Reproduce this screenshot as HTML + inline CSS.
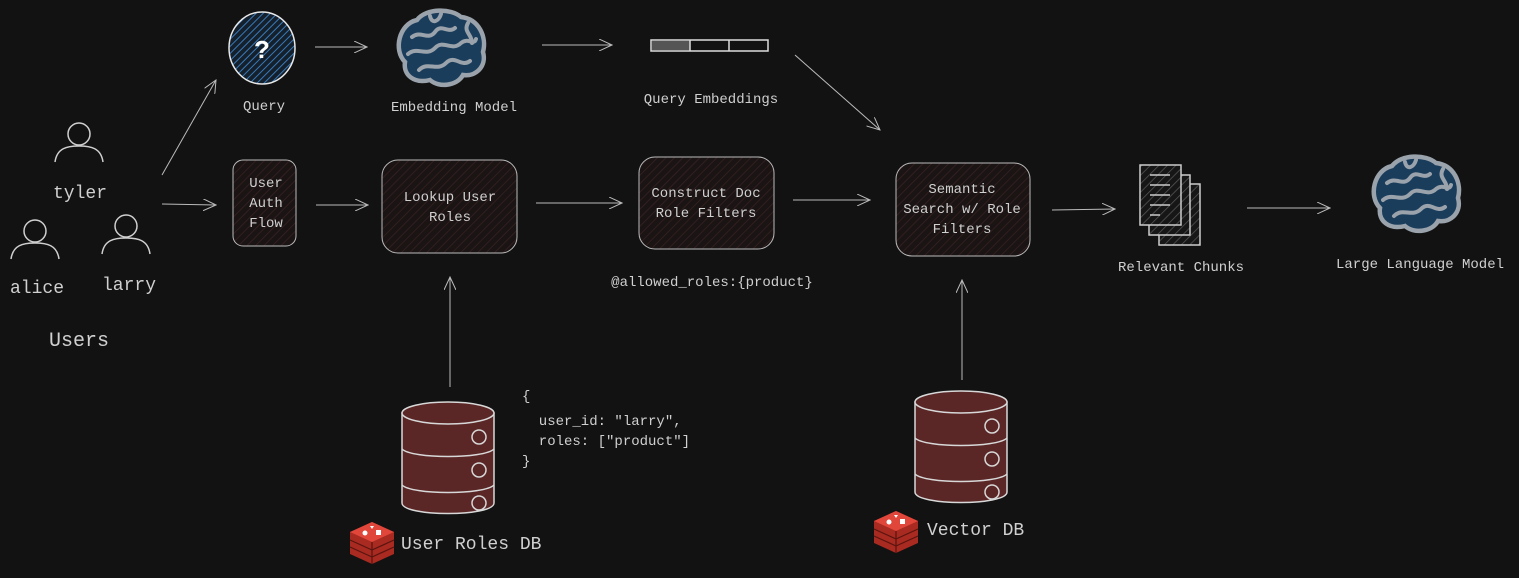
<!DOCTYPE html>
<html><head><meta charset="utf-8"><style>
html,body{margin:0;padding:0;background:#121212;}
svg{display:block;}
text{font-family:"Liberation Mono","DejaVu Sans Mono",monospace;fill:#d0d0d0;}
</style></head><body>
<svg width="1519" height="578" viewBox="0 0 1519 578" xmlns="http://www.w3.org/2000/svg">
<defs>
<pattern id="hr" width="6" height="6" patternUnits="userSpaceOnUse" patternTransform="rotate(45)">
<rect width="6" height="6" fill="#1a1414"/><line x1="0" y1="0" x2="0" y2="6" stroke="#3a2222" stroke-width="1.5"/></pattern>
<pattern id="hb" width="5" height="5" patternUnits="userSpaceOnUse" patternTransform="rotate(45)">
<rect width="5" height="5" fill="#14202c"/><line x1="0" y1="0" x2="0" y2="5" stroke="#3a7ab8" stroke-width="2"/></pattern>
<pattern id="hg" width="6" height="6" patternUnits="userSpaceOnUse" patternTransform="rotate(45)">
<rect width="6" height="6" fill="#161616"/><line x1="0" y1="0" x2="0" y2="6" stroke="#555" stroke-width="1.5"/></pattern>
<marker id="ah" markerWidth="14" markerHeight="12" refX="13" refY="6" orient="auto" markerUnits="userSpaceOnUse">
<path d="M0,0 L13,6 L0,12" fill="none" stroke="#bbb" stroke-width="1"/></marker>
<g id="brain">
<path d="M-34,12 C-46,0 -40,-26 -22,-30 C-13,-42 12,-42 22,-33 C40,-31 48,-13 44,2 C48,16 37,27 24,25 C18,36 0,38 -9,30 C-25,34 -36,25 -34,12 Z" fill="#1b3d5c" stroke="#9aa3ab" stroke-width="4.5"/>
<g fill="none" stroke="#9aa3ab" stroke-width="4" stroke-linecap="round">
<path d="M-27,-13 C-18,-20 -11,-9 -4,-18 C2,-27 9,-16 16,-22"/>
<path d="M-31,4 C-22,-4 -13,7 -4,-2 C4,-11 13,2 22,-7 C29,-13 35,-4 37,-11"/>
<path d="M-20,20 C-11,11 -2,22 7,13 C16,4 22,18 31,11"/>
<path d="M-9,-34 C-7,-25 0,-29 2,-36"/>
<path d="M29,-27 C24,-18 33,-16 33,-7"/>
</g></g>
<g id="person" fill="none" stroke="#cfcfcf" stroke-width="1.5">
<circle cx="0" cy="-12" r="11"/><path d="M-24,16 C-22,2 -12,0 0,0 C12,0 22,2 24,16"/></g>
<g id="cyl" stroke="#d8d8d8" stroke-width="1.5">
<path d="M0,10 L0,100 C0,114 92,114 92,100 L92,10 Z" fill="#5a2626"/>
<ellipse cx="46" cy="10" rx="46" ry="11" fill="#5a2626"/>
<path d="M0,46 C10,56 82,56 92,46 M0,82 C10,92 82,92 92,82" fill="none"/>
<circle cx="77" cy="34" r="7" fill="none"/><circle cx="77" cy="67" r="7" fill="none"/><circle cx="77" cy="100" r="7" fill="none"/>
</g>
<g id="redis">
<path d="M0,16 L22,6 L44,16 L44,38 L22,48 L0,38 Z" fill="#a82a20"/>
<path d="M0,16 L22,26 L44,16 L22,6 Z" fill="#e0463a"/>
<path d="M0,24 L22,34 L44,24 M0,31 L22,41 L44,31 M22,26 L22,48" stroke="#5a1410" fill="none" stroke-width="1.2"/>
<circle cx="15" cy="17" r="2.5" fill="#fff"/><rect x="26" y="14" width="5" height="5" fill="#fff"/><path d="M20,10 l4,0 l-2,3z" fill="#fff"/>
</g>
</defs>

<!-- people -->
<use href="#person" x="79" y="146"/>
<text x="80" y="198" font-size="18" text-anchor="middle">tyler</text>
<use href="#person" x="35" y="243"/>
<text x="37" y="293" font-size="18" text-anchor="middle">alice</text>
<use href="#person" x="126" y="238"/>
<text x="129" y="290" font-size="18" text-anchor="middle">larry</text>
<text x="79" y="346" font-size="20" text-anchor="middle">Users</text>

<g stroke="#bbb" stroke-width="1" fill="none" marker-end="url(#ah)">
<line x1="162" y1="175" x2="216" y2="80"/>
<line x1="162" y1="204" x2="216" y2="205"/>
<line x1="315" y1="47" x2="367" y2="47"/>
<line x1="542" y1="45" x2="612" y2="45"/>
<line x1="795" y1="55" x2="880" y2="130"/>
<line x1="316" y1="205" x2="368" y2="205"/>
<line x1="536" y1="203" x2="622" y2="203"/>
<line x1="793" y1="200" x2="870" y2="200"/>
<line x1="1052" y1="210" x2="1115" y2="209"/>
<line x1="1247" y1="208" x2="1330" y2="208"/>
<line x1="450" y1="387" x2="450" y2="277"/>
<line x1="962" y1="380" x2="962" y2="280"/>
</g>

<!-- query -->
<ellipse cx="262" cy="48" rx="33" ry="36" fill="url(#hb)" stroke="#e8e8e8" stroke-width="1.5"/>
<text x="262" y="58" font-size="26" font-weight="bold" text-anchor="middle" style="fill:#fff">?</text>
<text x="264" y="110" font-size="14" text-anchor="middle">Query</text>

<use href="#brain" x="439" y="50"/>
<text x="454" y="111" font-size="14" text-anchor="middle">Embedding Model</text>

<!-- embeddings bar -->
<rect x="651" y="40" width="117" height="11" fill="#121212" stroke="#ddd" stroke-width="1.5"/>
<rect x="652" y="41" width="38" height="9" fill="#555"/>
<line x1="690" y1="40" x2="690" y2="51" stroke="#ddd" stroke-width="1.5"/>
<line x1="729" y1="40" x2="729" y2="51" stroke="#ddd" stroke-width="1.5"/>
<text x="711" y="103" font-size="14" text-anchor="middle">Query Embeddings</text>

<!-- boxes -->
<rect x="233" y="160" width="63" height="86" rx="10" fill="url(#hr)" stroke="#bbb" stroke-width="1"/>
<text font-size="14" text-anchor="middle"><tspan x="266" y="187">User</tspan><tspan x="266" y="207">Auth</tspan><tspan x="266" y="227">Flow</tspan></text>
<rect x="382" y="160" width="135" height="93" rx="16" fill="url(#hr)" stroke="#bbb" stroke-width="1"/>
<text font-size="14" text-anchor="middle"><tspan x="450" y="201">Lookup User</tspan><tspan x="450" y="221">Roles</tspan></text>
<rect x="639" y="157" width="135" height="92" rx="16" fill="url(#hr)" stroke="#bbb" stroke-width="1"/>
<text font-size="14" text-anchor="middle"><tspan x="706" y="197">Construct Doc</tspan><tspan x="706" y="217">Role Filters</tspan></text>
<rect x="896" y="163" width="134" height="93" rx="16" fill="url(#hr)" stroke="#bbb" stroke-width="1"/>
<text font-size="14" text-anchor="middle"><tspan x="962" y="193">Semantic</tspan><tspan x="962" y="213">Search w/ Role</tspan><tspan x="962" y="233">Filters</tspan></text>
<text x="712" y="286" font-size="14" text-anchor="middle">@allowed_roles:{product}</text>

<!-- chunks -->
<g stroke="#ccc" stroke-width="1.5" fill="url(#hg)">
<rect x="1159" y="184" width="41" height="61"/>
<rect x="1149" y="175" width="41" height="60"/>
<rect x="1140" y="165" width="41" height="60"/>
</g>
<g stroke="#ccc" stroke-width="1.5"><line x1="1150" y1="175" x2="1170" y2="175"/><line x1="1150" y1="185" x2="1170" y2="185"/><line x1="1150" y1="195" x2="1170" y2="195"/><line x1="1150" y1="205" x2="1170" y2="205"/><line x1="1150" y1="215" x2="1160" y2="215"/></g>
<text x="1181" y="271" font-size="14" text-anchor="middle">Relevant Chunks</text>

<use href="#brain" x="1414" y="196"/>
<text x="1420" y="268" font-size="14" text-anchor="middle">Large Language Model</text>

<!-- DBs -->
<use href="#cyl" x="402" y="403"/>
<text font-size="14" xml:space="preserve"><tspan x="522" y="400">{</tspan><tspan x="522" y="425">  user_id: "larry",</tspan><tspan x="522" y="445">  roles: ["product"]</tspan><tspan x="522" y="465">}</tspan></text>
<use href="#redis" x="350" y="516"/>
<text x="401" y="549" font-size="18">User Roles DB</text>

<use href="#cyl" x="915" y="392"/>
<use href="#redis" x="874" y="505"/>
<text x="927" y="535" font-size="18">Vector DB</text>
</svg>
</body></html>
